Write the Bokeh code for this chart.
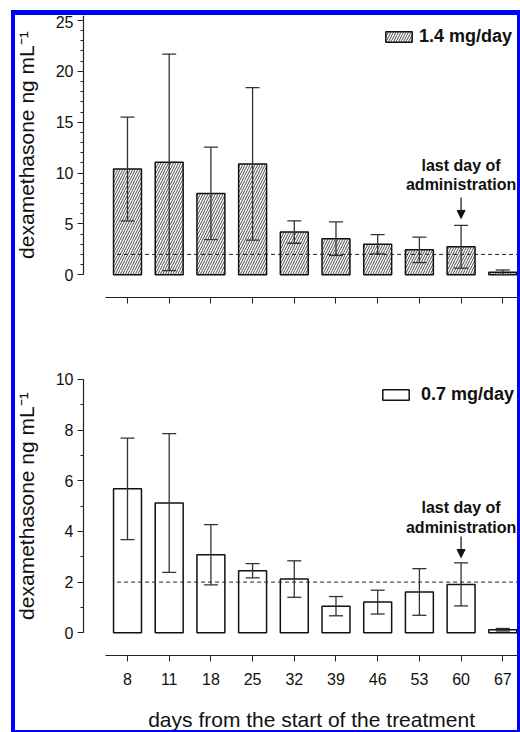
import math
from bokeh.plotting import figure
from bokeh.models import (ColumnDataSource, Whisker, TeeHead, Arrow, NormalHead,
                          Legend, LegendItem, FixedTicker, Range1d, Div)
from bokeh.layouts import column, row
from bokeh.embed import file_html
from bokeh.resources import INLINE
from bokeh.core.properties import value

# ---------------- data ----------------
days = ["8", "11", "18", "25", "32", "39", "46", "53", "60", "67"]
mean_14 = [10.4, 11.05, 8.0, 10.9, 4.2, 3.55, 3.0, 2.45, 2.75, 0.25]
sd_14 = [5.1, 10.65, 4.55, 7.5, 1.1, 1.65, 0.95, 1.25, 2.1, 0.22]
mean_07 = [5.68, 5.12, 3.08, 2.45, 2.12, 1.05, 1.21, 1.61, 1.91, 0.12]
sd_07 = [2.0, 2.74, 1.19, 0.28, 0.72, 0.38, 0.47, 0.92, 0.85, 0.05]
threshold = 2.0
last_day = "60"
label_14 = "1.4 mg/day"
label_07 = "0.7 mg/day"
y_title = "dexamethasone ng mL\u207b\u00b9"
x_title = "days from the start of the treatment"
ticks_14 = [0, 5, 10, 15, 20, 25]
ticks_07 = [0, 2, 4, 6, 8, 10]

FONT = "Liberation Sans"
AX = "#222222"
TXT = "#111111"
BLUE = "#0000ff"
idx = list(range(len(days)))
last_i = days.index(last_day)

# layout constants (positions, not data)
X_RANGE = (-2.686, 9.353)
X_BOUNDS = (-0.53, 9.36)
Y_AXIS_AT = -1.055
Y_TITLE_AT = -2.42


def style_axes(p, yticks, yminor, ybounds, x_axis_at, show_x, x_title_y):
    p.grid.visible = False
    p.outline_line_color = None
    p.background_fill_color = "white"
    p.border_fill_color = "white"
    yax = p.yaxis[0]
    yax.fixed_location = Y_AXIS_AT
    yax.ticker = FixedTicker(ticks=yticks, minor_ticks=yminor)
    yax.bounds = ybounds
    yax.axis_line_color = AX
    yax.axis_line_width = 1.2
    yax.major_tick_line_color = AX
    yax.minor_tick_line_color = AX
    yax.major_tick_out = 6
    yax.major_tick_in = 0
    yax.minor_tick_out = 3
    yax.minor_tick_in = 0
    yax.major_label_text_font = FONT
    yax.major_label_text_font_size = "16px"
    yax.major_label_text_color = TXT
    yax.major_label_standoff = 4

    xax = p.xaxis[0]
    xax.fixed_location = x_axis_at
    xax.ticker = FixedTicker(ticks=idx, minor_ticks=[])
    xax.bounds = X_BOUNDS
    xax.axis_line_color = AX
    xax.axis_line_width = 1.2
    xax.major_tick_line_color = AX
    xax.major_tick_out = 6
    xax.major_tick_in = 0
    xax.minor_tick_out = 0
    xax.major_label_text_font = FONT
    xax.major_label_text_color = TXT
    xax.major_label_text_font_size = "16px"
    if show_x:
        xax.major_label_overrides = {i: d for i, d in zip(idx, days)}
        xax.major_label_standoff = 12
        p.text(x=[sum(X_BOUNDS) / 2], y=[x_title_y], text=[x_title],
               text_font=value(FONT), text_font_size="21px", text_color=TXT,
               text_align="center", text_baseline="alphabetic")
    else:
        xax.major_label_overrides = {i: "" for i in idx}
        xax.major_label_standoff = 0

    p.text(x=[Y_TITLE_AT], y=[sum(ybounds) / 2], text=[y_title], angle=math.pi / 2,
           text_font=value(FONT), text_font_size="21px", text_color=TXT,
           text_align="center", text_baseline="middle")


def add_series(p, mean, sd, hatched, label, legend_loc, ann_y, arrow_y, standoff):
    src = ColumnDataSource(dict(
        x=idx, top=mean,
        upper=[m + s for m, s in zip(mean, sd)],
        lower=[max(m - s, 0) for m, s in zip(mean, sd)],
    ))
    kw = dict(fill_color="white", line_color=TXT, line_width=1.5)
    if hatched:
        kw.update(hatch_pattern="/", hatch_color="#333333", hatch_scale=5, hatch_weight=0.9)
    bars = p.vbar(x="x", top="top", bottom=0, width=0.67, source=src, **kw)

    p.line(x=[-0.25, 9.6], y=[threshold, threshold], line_color="#222222",
           line_width=1, line_dash="4 3")

    w = Whisker(base="x", upper="upper", lower="lower", source=src,
                line_color="#333333", line_width=1.3, level="annotation",
                upper_head=TeeHead(size=14, line_color="#333333", line_width=1.3),
                lower_head=TeeHead(size=14, line_color="#333333", line_width=1.3))
    p.add_layout(w)

    p.text(x=[last_i, last_i], y=ann_y, text=["last day of", "administration"],
           text_font=value(FONT), text_font_size="16px", text_font_style="bold",
           text_align="center", text_baseline="middle", text_color=TXT)
    p.add_layout(Arrow(end=NormalHead(size=8, fill_color=TXT, line_color=TXT),
                       x_start=last_i, y_start=arrow_y[0], x_end=last_i, y_end=arrow_y[1],
                       line_color=TXT, line_width=1.2))

    leg = Legend(items=[LegendItem(label=label, renderers=[bars])], location=legend_loc,
                 glyph_width=33, glyph_height=13, label_standoff=standoff,
                 label_text_font=FONT, label_text_font_size="18px",
                 label_text_font_style="bold", label_text_color=TXT,
                 border_line_color=None, background_fill_alpha=0,
                 padding=0, margin=0, spacing=0)
    p.add_layout(leg)


common = dict(output_backend="svg", toolbar_location=None, width=502,
              x_range=Range1d(*X_RANGE), min_border=0, min_border_left=0,
              min_border_right=0, min_border_top=0, min_border_bottom=0)

p1 = figure(height=315, y_range=Range1d(-5.48, 25.49), **common)
style_axes(p1, ticks_14, list(range(0, 26)), (0, 25.5), -2.23, False, None)
add_series(p1, mean_14, sd_14, True, label_14, (367, 283), [10.75, 8.88], (7.6, 5.54), 4)

p2 = figure(height=400, y_range=Range1d(-3.857, 11.93), **common)
style_axes(p2, ticks_07, list(range(0, 11)), (0, 10), -0.896, True, -3.42)
add_series(p2, mean_07, sd_07, False, label_07, (364, 325), [4.94, 4.16], (3.80, 2.97), 9)


def bar(w, h):
    return Div(width=w, height=h, margin=0, styles={"background-color": BLUE})


inner = column(p1, p2, spacing=0, margin=0)
layout = column(
    bar(509, 5),
    row(bar(4, 715), inner, bar(3, 715), spacing=0, margin=0),
    bar(509, 2),
    spacing=0, margin=(10, 0, 0, 11),
)

open("out.html", "w").write(file_html(layout, INLINE))
